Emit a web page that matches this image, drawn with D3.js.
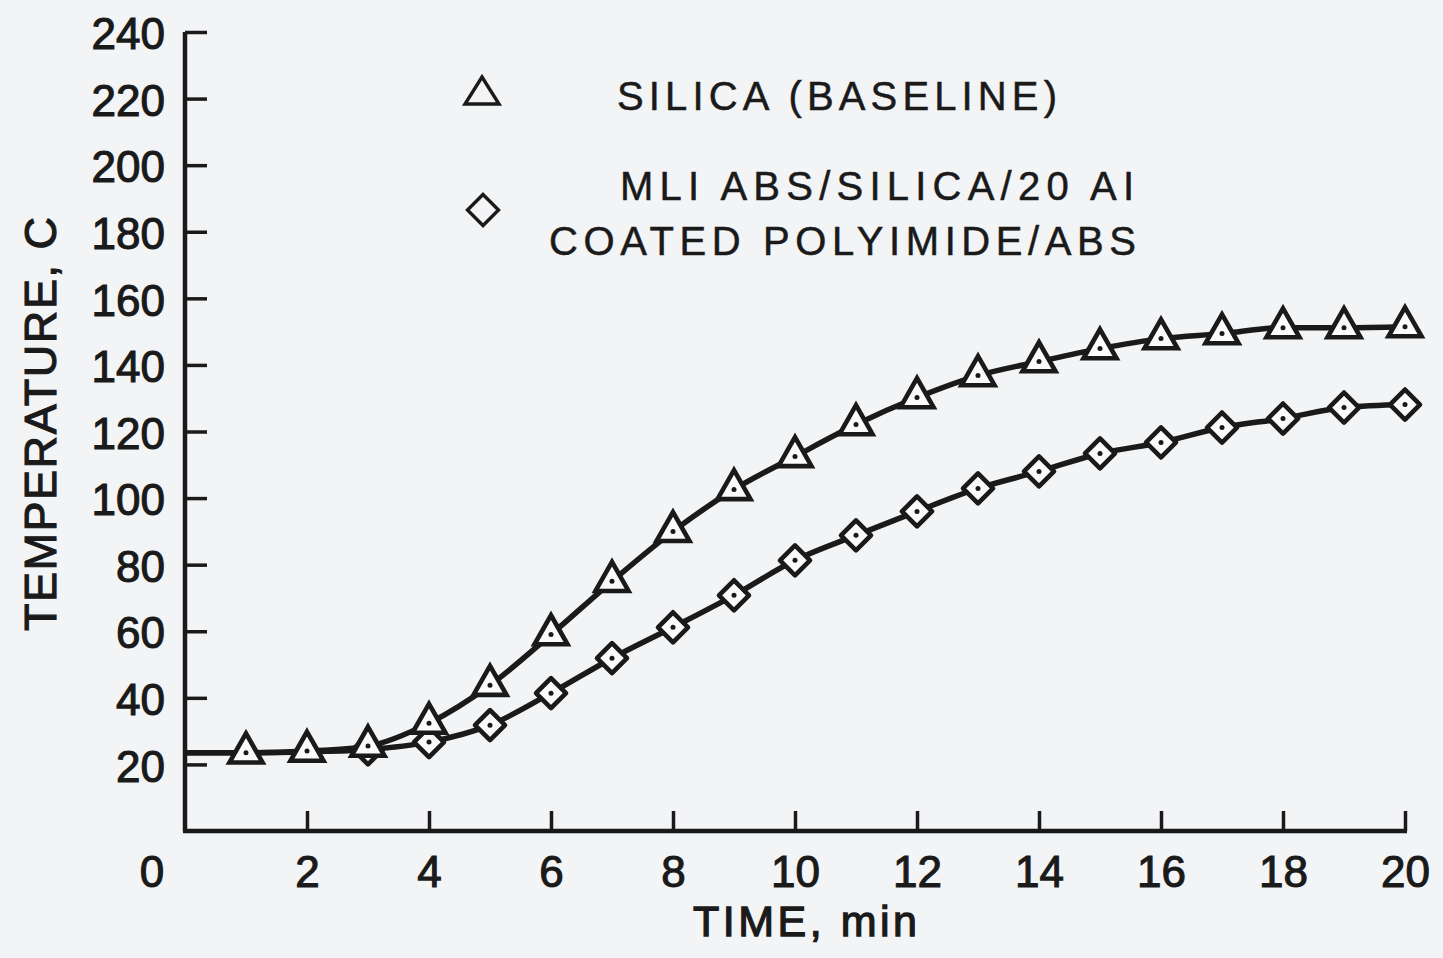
<!DOCTYPE html>
<html>
<head>
<meta charset="utf-8">
<script src="https://cdn.jsdelivr.net/npm/d3@7/dist/d3.min.js"></script>
<style>
  html, body { margin: 0; padding: 0; background: #f3f4f6; }
  svg { display: block; }
  text { font-family: "Liberation Sans", Arial, Helvetica, sans-serif; fill: #1a1a1a; }
</style>
</head>
<body>
<svg id="chart" width="1443" height="958"></svg>
<script>
// Time in minutes, one reading per minute
const times = [0, 1, 2, 3, 4, 5, 6, 7, 8, 9, 10, 11, 12, 13, 14, 15, 16, 17, 18, 19, 20];
// Temperature, C
const silica = [23.5, 23.5, 24.0, 25.5, 32.4, 43.8, 59.0, 75.0, 90.0, 102.6, 112.5, 122.1, 130.2, 136.8, 141.0, 144.9, 147.9, 149.4, 151.2, 151.2, 151.5];
const mli    = [23.5, 23.5, 23.8, 24.5, 26.7, 31.8, 41.4, 51.9, 61.2, 70.8, 81.3, 88.8, 96.0, 102.9, 108.0, 113.4, 116.7, 121.2, 123.9, 127.2, 128.1];
// first minute that carries a symbol on each curve
const silicaFirstMark = 1;
const mliFirstMark = 3;

const xTicks = [2, 4, 6, 8, 10, 12, 14, 16, 18, 20];
const yTicks = [20, 40, 60, 80, 100, 120, 140, 160, 180, 200, 220, 240];
const xTitle = "TIME, min";
const yTitle = "TEMPERATURE, C";
const legendLabels = ["SILICA (BASELINE)", "MLI ABS/SILICA/20 AI", "COATED POLYIMIDE/ABS"];

const ink = "#1a1a1a";
const svg = d3.select("#chart");

const x = d3.scaleLinear().domain([0, 20]).range([185, 1405]);
const y = d3.scaleLinear().domain([0, 240]).range([831, 32]);

// ---- axes ----
const yAxis = d3.axisLeft(y).tickValues(yTicks).tickSizeInner(-22).tickSizeOuter(0).tickPadding(20);
const gy = svg.append("g").attr("transform", `translate(${x(0)},0)`).call(yAxis);
gy.select(".domain").attr("stroke", ink).attr("stroke-width", 4.5).attr("d", `M0,${y(0)}V${y(240)}`);
gy.selectAll(".tick line").attr("stroke", ink).attr("stroke-width", 3.5);
gy.selectAll(".tick text")
  .attr("font-size", 44).attr("dy", "0.38em")
  .attr("fill", ink).attr("stroke", ink).attr("stroke-width", 1.1);

const xAxis = d3.axisBottom(x).tickValues(xTicks).tickSizeInner(-20).tickSizeOuter(0).tickPadding(25);
const gx = svg.append("g").attr("transform", `translate(0,${y(0)})`).call(xAxis);
gx.select(".domain").attr("stroke", ink).attr("stroke-width", 4.5).attr("d", `M${x(0) - 2},0H${x(20) + 2}`);
gx.selectAll(".tick line").attr("stroke", ink).attr("stroke-width", 3.5);
gx.selectAll(".tick text")
  .attr("font-size", 44)
  .attr("fill", ink).attr("stroke", ink).attr("stroke-width", 1.1);
gx.selectAll("text").attr("font-family", null);
gy.selectAll("text").attr("font-family", null);

// origin label sits to the lower left of the corner
svg.append("text")
  .attr("x", x(0) - 33).attr("y", 887)
  .attr("text-anchor", "middle").attr("font-size", 44)
  .attr("stroke", ink).attr("stroke-width", 1.1)
  .text("0");

// axis titles
svg.append("text")
  .attr("x", 693).attr("y", 936)
  .attr("font-size", 43)
  .attr("textLength", 224).attr("lengthAdjust", "spacing")
  .attr("stroke", ink).attr("stroke-width", 1.3)
  .text(xTitle);

svg.append("text")
  .attr("transform", "translate(56,631) rotate(-90)")
  .attr("font-size", 45)
  .attr("textLength", 414).attr("lengthAdjust", "spacing")
  .attr("stroke", ink).attr("stroke-width", 1.1)
  .text(yTitle);

// ---- curves ----
const line = d3.line()
  .x((d, i) => x(times[i]))
  .y(d => y(d))
  .curve(d3.curveMonotoneX);

[silica, mli].forEach(vals => {
  svg.append("path")
    .attr("d", line(vals))
    .attr("fill", "none")
    .attr("stroke", ink)
    .attr("stroke-width", 5.5)
    .attr("stroke-linejoin", "round");
});

// symbol shapes: triangle with centroid at origin, diamond centred
const triPath = (h, w) => `M0,${-2 * h / 3}L${w / 2},${h / 3}L${-w / 2},${h / 3}Z`;
const diaPath = r => `M0,${-r}L${r},0L0,${r}L${-r},0Z`;

// diamonds (MLI) beneath the triangles
const mliPts = times.map((t, i) => ({ t, v: mli[i] })).filter(d => d.t >= mliFirstMark);
const gd = svg.append("g").selectAll("g").data(mliPts).join("g")
  .attr("transform", d => `translate(${x(d.t)},${y(d.v)})`);
gd.append("path").attr("d", diaPath(15))
  .attr("fill", "#fbfbfb").attr("stroke", ink).attr("stroke-width", 4.6).attr("stroke-linejoin", "round");
gd.append("circle").attr("r", 2.5).attr("fill", ink);

const silPts = times.map((t, i) => ({ t, v: silica[i] })).filter(d => d.t >= silicaFirstMark);
const gt = svg.append("g").selectAll("g").data(silPts).join("g")
  .attr("transform", d => `translate(${x(d.t)},${y(d.v)})`);
gt.append("path").attr("d", triPath(29, 33))
  .attr("fill", "#fbfbfb").attr("stroke", ink).attr("stroke-width", 4.6).attr("stroke-linejoin", "miter");
gt.append("circle").attr("r", 2.5).attr("fill", ink);

// ---- legend ----
svg.append("path").attr("transform", "translate(482,95)").attr("d", triPath(27, 34))
  .attr("fill", "none").attr("stroke", ink).attr("stroke-width", 3.4);
svg.append("path").attr("transform", "translate(483,210)").attr("d", diaPath(15.5))
  .attr("fill", "none").attr("stroke", ink).attr("stroke-width", 3.4);

const legendRows = [
  { text: legendLabels[0], x: 617, y: 110, len: 440 },
  { text: legendLabels[1], x: 620, y: 200, len: 514 },
  { text: legendLabels[2], x: 549, y: 255, len: 587 }
];
legendRows.forEach(r => {
  svg.append("text")
    .attr("x", r.x).attr("y", r.y)
    .attr("font-size", 40)
    .attr("textLength", r.len).attr("lengthAdjust", "spacing")
    .attr("stroke", ink).attr("stroke-width", 0.5)
    .text(r.text);
});
</script>
</body>
</html>
